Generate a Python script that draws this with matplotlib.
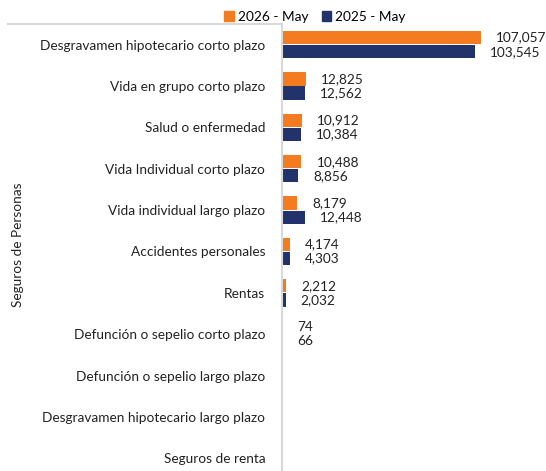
import matplotlib.pyplot as plt
import numpy as np
from matplotlib.lines import Line2D

plt.rcParams['font.family'] = ['Lato', 'DejaVu Sans']

categories = ['Desgravamen hipotecario corto plazo', 'Vida en grupo corto plazo',
              'Salud o enfermedad', 'Vida Individual corto plazo',
              'Vida individual largo plazo', 'Accidentes personales', 'Rentas',
              'Defunción o sepelio corto plazo', 'Defunción o sepelio largo plazo',
              'Desgravamen hipotecario largo plazo', 'Seguros de renta']
may_2026 = [107057, 12825, 10912, 10488, 8179, 4174, 2212, 74, None, None, None]
may_2025 = [103545, 12562, 10384, 8856, 12448, 4303, 2032, 66, None, None, None]

orange = '#F47B20'
navy = '#22336B'
grid_gray = '#D9D9D9'
fs = 9.8

fig = plt.figure(figsize=(5.46, 4.71), dpi=100)
ax = fig.add_axes([282 / 546, -8 / 471, 264 / 546, 455 / 471])

y = np.arange(len(categories))
h = 0.32
v26 = [v if v is not None else 0 for v in may_2026]
v25 = [v if v is not None else 0 for v in may_2025]
ax.barh(y - h / 2 - 0.01, v26, height=h, color=orange)
ax.barh(y + h / 2 + 0.01, v25, height=h, color=navy)

# value labels
for i in range(len(categories)):
    if may_2026[i] is not None:
        ax.annotate(f'{may_2026[i]:,}', (v26[i], y[i] - h / 2 - 0.01), xytext=(15, 0),
                    textcoords='offset pixels', va='center', ha='left',
                    fontsize=fs, color='#222222', annotation_clip=False)
    if may_2025[i] is not None:
        ax.annotate(f'{may_2025[i]:,}', (v25[i], y[i] + h / 2 + 0.01), xytext=(15, 0),
                    textcoords='offset pixels', va='center', ha='left',
                    fontsize=fs, color='#222222', annotation_clip=False)

ax.set_xlim(0, 142000)
ax.set_ylim(len(categories) - 0.5, -0.5)
ax.set_yticks(y)
ax.set_yticklabels(categories, fontsize=fs, color='#222222')
ax.tick_params(axis='y', length=0, pad=12)
ax.set_xticks([])
for s in ['top', 'right', 'bottom']:
    ax.spines[s].set_visible(False)
ax.spines['left'].set_color(grid_gray)
ax.spines['left'].set_linewidth(1.5)

# group separator line and group label
fig.add_artist(Line2D([8 / 546, 282 / 546], [1 - 24 / 471, 1 - 24 / 471],
                      color=grid_gray, lw=1.5))
fig.text(18 / 546, 1 - 245 / 471, 'Seguros de Personas', rotation=90,
         ha='center', va='center', fontsize=fs, color='#222222')

# legend
handles = [plt.Rectangle((0, 0), 1, 1, color=orange),
           plt.Rectangle((0, 0), 1, 1, color=navy)]
fig.legend(handles, ['2026 - May', '2025 - May'], loc='center',
           bbox_to_anchor=(315 / 546, 1 - 17 / 471), ncol=2, frameon=False,
           fontsize=fs, handlelength=0.7, handleheight=0.7, handletextpad=0.3,
           columnspacing=1.0)

fig.savefig('out.png', dpi=100)
